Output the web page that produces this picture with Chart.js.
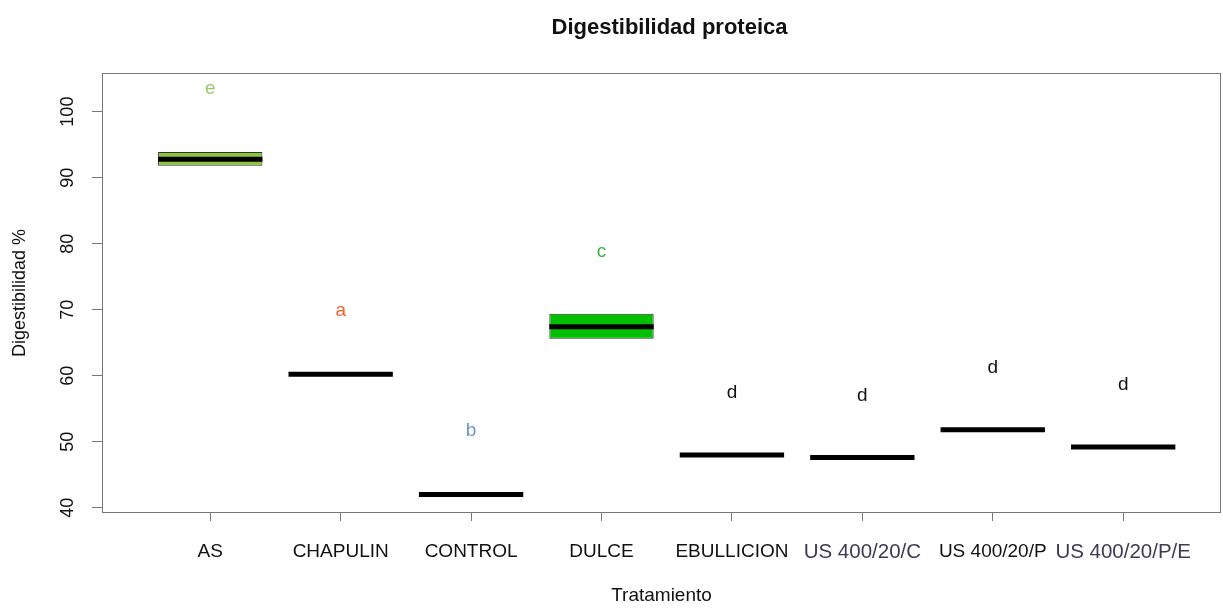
<!DOCTYPE html>
<html>
<head>
<meta charset="utf-8">
<title>Digestibilidad proteica</title>
<script src="https://cdn.jsdelivr.net/npm/chart.js@4"></script>
<style>
  html, body { margin: 0; padding: 0; background: #fff; }
  #wrap { width: 1223px; height: 608px; }
</style>
</head>
<body>
<div id="wrap"><canvas id="digChart"></canvas></div>
<script>
// Treatments and summary values (digestibility %)
const tratamientos = ['AS', 'CHAPULIN', 'CONTROL', 'DULCE', 'EBULLICION', 'US 400/20/C', 'US 400/20/P', 'US 400/20/P/E'];
const q1 = [91.8, 60.2, 42.0, 65.6, 47.9, 47.6, 51.8, 49.2];
const q3 = [93.9, 60.2, 42.0, 69.4, 48.1, 47.6, 51.8, 49.2];
const medianas = [92.8, 60.2, 42.0, 67.4, 48.0, 47.6, 51.8, 49.2];

// Significance letters and the height at which they are written
const letras = ['e', 'a', 'b', 'c', 'd', 'd', 'd', 'd'];
const letrasY = [103.4, 69.9, 51.6, 78.7, 57.4, 56.9, 61.2, 58.7];

const yTicks = [40, 50, 60, 70, 80, 90, 100];

const boxFill = ['#8cc43e', '#ffffff', '#ffffff', '#00c000', '#ffffff', '#ffffff', '#ffffff', '#ffffff'];
const letraColor = ['#9bcb68', '#f0642c', '#6e93cb', '#3cb143', '#111111', '#111111', '#111111', '#111111'];
const tickColor = ['#111', '#111', '#111', '#111', '#111', '#3e3a52', '#111', '#3e3a52'];
const tickSize = [19, 19, 19, 19, 19, 20.5, 19, 20.5];

const FONT = "'Liberation Sans', Arial, sans-serif";

// median segments, one per box, separated by gaps
const medianPts = [];
medianas.forEach((m, i) => {
    medianPts.push({ x: i + 0.6, y: m }, { x: i + 1.4, y: m }, { x: i + 1.5, y: null });
});

const framePlugin = {
    id: 'frame',
    afterDraw(chart) {
        const { ctx, chartArea: a } = chart;
        ctx.save();
        ctx.strokeStyle = '#777';
        ctx.lineWidth = 1;
        ctx.strokeRect(a.left + 0.5, a.top + 0.5, a.right - a.left - 1, a.bottom - a.top - 1);
        // main title
        ctx.fillStyle = '#111';
        ctx.font = 'bold 22px ' + FONT;
        ctx.textAlign = 'center';
        ctx.textBaseline = 'alphabetic';
        ctx.fillText('Digestibilidad proteica', (a.left + a.right) / 2 + 8, 34);
        ctx.restore();
    }
};

const letrasPlugin = {
    id: 'letras',
    afterDatasetsDraw(chart) {
        const { ctx, scales: { x, y } } = chart;
        ctx.save();
        ctx.font = '19px ' + FONT;
        ctx.textAlign = 'center';
        ctx.textBaseline = 'middle';
        letras.forEach((l, i) => {
            ctx.fillStyle = letraColor[i];
            ctx.fillText(l, x.getPixelForValue(i + 1), y.getPixelForValue(letrasY[i]));
        });
        ctx.restore();
    }
};

new Chart(document.getElementById('digChart'), {
    type: 'bar',
    data: {
        datasets: [{
            type: 'bar',
            data: tratamientos.map((t, i) => ({ x: i + 1, y: [q1[i], q3[i]] })),
            backgroundColor: boxFill,
            borderColor: '#333',
            borderWidth: 1,
            borderSkipped: false,
            barPercentage: 0.8,
            categoryPercentage: 1,
            grouped: false,
            order: 2
        }, {
            type: 'line',
            data: medianPts,
            borderColor: '#000',
            borderWidth: 5,
            borderCapStyle: 'butt',
            pointRadius: 0,
            spanGaps: false,
            fill: false,
            order: 1
        }]
    },
    options: {
        responsive: true,
        maintainAspectRatio: false,
        animation: false,
        layout: { padding: { top: 73, right: 2, left: 0, bottom: 0 } },
        plugins: {
            legend: { display: false },
            tooltip: { enabled: false },
            title: { display: false }
        },
        scales: {
            x: {
                type: 'linear',
                min: 0.17,
                max: 8.75,
                offset: false,
                afterBuildTicks: (scale) => {
                    scale.ticks = tratamientos.map((t, i) => ({ value: i + 1 }));
                },
                afterFit: (scale) => { scale.height = 95; },
                ticks: {
                    autoSkip: false,
                    maxRotation: 0,
                    padding: 19,
                    callback: (v) => tratamientos[v - 1],
                    color: (c) => tickColor[c.index],
                    font: (c) => ({ family: FONT, size: tickSize[c.index] || 19 })
                },
                grid: { offset: false, drawOnChartArea: false, tickLength: 8, color: '#777' },
                border: { display: false },
                title: {
                    display: true,
                    text: 'Tratamiento',
                    color: '#111',
                    font: { family: FONT, size: 19 },
                    padding: { top: 0, bottom: 1 }
                }
            },
            y: {
                min: 39.2,
                max: 105.85,
                afterBuildTicks: (scale) => {
                    scale.ticks = yTicks.map(v => ({ value: v }));
                },
                afterFit: (scale) => { scale.width = 102; },
                ticks: {
                    autoSkip: false,
                    minRotation: 90,
                    maxRotation: 90,
                    crossAlign: 'center',
                    padding: 9,
                    color: '#111',
                    font: { family: FONT, size: 18 }
                },
                grid: { drawOnChartArea: false, tickLength: 10, color: '#777' },
                border: { display: false },
                title: {
                    display: true,
                    text: 'Digestibilidad %',
                    color: '#111',
                    font: { family: FONT, size: 18 },
                    padding: { top: 9, bottom: 0 }
                }
            }
        }
    },
    plugins: [framePlugin, letrasPlugin]
});
</script>
</body>
</html>
